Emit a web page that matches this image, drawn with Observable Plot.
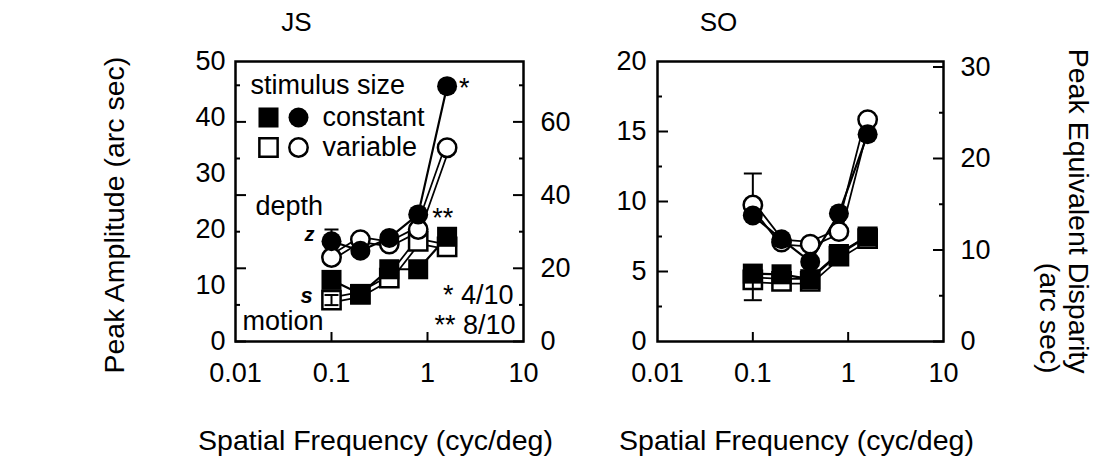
<!DOCTYPE html>
<html>
<head>
<meta charset="utf-8">
<script src="https://cdn.jsdelivr.net/npm/d3@7"></script>
<script src="https://cdn.jsdelivr.net/npm/@observablehq/plot@0.6"></script>
<style>
  html, body { margin: 0; padding: 0; background: #fff; }
  #figure { position: relative; width: 1094px; height: 464px; overflow: hidden; }
  #figure svg { position: absolute; top: 0; }
</style>
</head>
<body>
<div id="figure"></div>
<script>
// Spatial frequencies tested (cyc/deg)
const freq = [0.1, 0.2, 0.4, 0.8, 1.6];

// Observer JS: peak amplitude (arc sec)
const jsDepthConstant  = [17.9, 16.2, 18.5, 22.7, 45.6];
const jsDepthVariable  = [15.0, 18.2, 17.4, 20.0, 34.6];
const jsMotionConstant = [11.0, 8.5, 12.9, 12.9, 18.7];
const jsMotionVariable = [7.4, 8.4, 11.3, 17.9, 16.9];

// Observer SO: peak amplitude (arc sec)
const soDepthConstant  = [9.0, 7.3, 5.7, 9.15, 14.8];
const soDepthVariable  = [9.75, 7.1, 6.95, 7.85, 15.85];
const soMotionConstant = [4.85, 4.8, 4.45, 6.25, 7.5];
const soMotionVariable = [4.4, 4.3, 4.3, 6.1, 7.35];

// Error bars (frequency, lower end, upper end)
const jsErrFreq = [0.1, 0.1];
const jsErrLow  = [17.9, 6.5];
const jsErrHigh = [20.0, 8.3];
const soErrFreq = [0.1, 0.1];
const soErrLow  = [9.75, 2.95];
const soErrHigh = [12.0, 4.4];

// Axis ticks
const xTicks = [0.01, 0.1, 1, 10];
const xInnerTicks = [0.1, 1];
const jsLeftTicks = [0, 10, 20, 30, 40, 50];
const jsRightTicks = [0, 20, 40, 60];
const jsRightMinor = [10, 30, 50, 70];
const soLeftTicks = [0, 5, 10, 15, 20];
const soLeftMinor = [2.5, 7.5, 12.5, 17.5];
const soRightTicks = [0, 10, 20, 30];
const soRightMinor = [5, 15, 25];

// Peak equivalent disparity per unit of peak amplitude
const disparityPerAmplitude = 1.53;

// Texts
const xTitle = "Spatial Frequency (cyc/deg)";
const yTitle = "Peak Amplitude (arc sec)";
const yRightTitle = ["Peak Equivalent Disparity", "(arc sec)"];
const legendTitle = "stimulus size";
const legendLabels = ["constant", "variable"];

const FONT = '"Liberation Sans", Arial, Helvetica, sans-serif';
const FS = 27;      // tick labels, legend, annotations
const TITLE_FS = 28.5; // axis titles

const rows = (values) => freq.map((f, i) => ({f, v: values[i]}));
const toAmp = (list) => list.map((r) => r / disparityPerAmplitude);

// horizontal error-bar cap as a custom symbol (half width = r)
const capSymbol = {
  draw(context, size) {
    const w = Math.sqrt(size / Math.PI);
    context.moveTo(-w, 0);
    context.lineTo(w, 0);
  }
};

// label anchored in the frame, vertically centred on its position
const label = (text, opts) => Plot.text([text], {lineAnchor: "middle", fontSize: FS, ...opts});

function innerTicksY(values, anchor, size) {
  return Plot.axisY(values, {
    anchor, tickSize: size, dx: anchor === "left" ? size : -size,
    tickFormat: () => "", strokeWidth: 2, label: null
  });
}

function panel(cfg) {
  const dc = rows(cfg.depthC), dv = rows(cfg.depthV);
  const mc = rows(cfg.motionC), mv = rows(cfg.motionV);
  const errs = cfg.errF.map((f, i) => ({f, lo: cfg.errLo[i], hi: cfg.errHi[i]}));
  const caps = errs.flatMap((e) => [{f: e.f, v: e.lo}, {f: e.f, v: e.hi}]);

  const doubleLine = (data) => [
    Plot.line(data, {x: "f", y: "v", stroke: "black", strokeWidth: 6.5}),
    Plot.line(data, {x: "f", y: "v", stroke: "white", strokeWidth: 3})
  ];
  const singleLine = (data) => Plot.line(data, {x: "f", y: "v", stroke: "black", strokeWidth: 2.2});

  const marks = [
    Plot.frame({stroke: "black", strokeWidth: 2.5}),
    Plot.axisX(xTicks, {anchor: "bottom", tickSize: 0, tickPadding: 21, tickFormat: (d) => String(d), fontSize: FS, label: null}),
    Plot.axisX(xInnerTicks, {anchor: "bottom", tickSize: 9, dy: -9, tickFormat: () => "", strokeWidth: 2, label: null}),
    Plot.axisY(cfg.leftTicks, {anchor: "left", tickSize: 0, tickPadding: cfg.leftPad, fontSize: FS, label: null}),
    innerTicksY(cfg.leftMajor, "left", 11),
    innerTicksY(cfg.leftMinor, "left", 5),
    Plot.axisY(toAmp(cfg.rightTicks), {
      anchor: "right", tickSize: 0, tickPadding: 17, fontSize: FS, label: null,
      tickFormat: (d) => String(Math.round(d * disparityPerAmplitude))
    }),
    innerTicksY(toAmp(cfg.rightTicks), "right", 11),
    innerTicksY(toAmp(cfg.rightMinor), "right", 5),

    // connecting lines
    ...doubleLine(mv),
    singleLine(mc),
    ...doubleLine(dv),
    singleLine(dc),

    // markers and error bars
    Plot.dot(mv, {x: "f", y: "v", symbol: "square", r: 10.3, fill: "white", stroke: "black", strokeWidth: 2.5}),
    Plot.ruleX(errs, {x: "f", y1: "lo", y2: "hi", stroke: "black", strokeWidth: 2}),
    Plot.dot(caps, {x: "f", y: "v", symbol: capSymbol, r: cfg.capHalf, stroke: "black", strokeWidth: 2}),
    Plot.dot(mc, {x: "f", y: "v", symbol: "square", r: 11.3, fill: "black"}),
    Plot.dot(dv, {x: "f", y: "v", symbol: "circle", r: 9.2, fill: "white", stroke: "black", strokeWidth: 2.5}),
    Plot.dot(dc, {x: "f", y: "v", symbol: "circle", r: 10, fill: "black"}),

    // panel title and axis title
    label(cfg.name, {frameAnchor: "top-left", dx: 61, dy: -39, fontSize: 26, textAnchor: "middle"}),
    label(xTitle, {frameAnchor: "bottom", dx: -4, dy: 99, fontSize: TITLE_FS})
  ];
  if (cfg.extra) marks.push(...cfg.extra(dc));

  return Plot.plot({
    width: cfg.width, height: 464,
    marginLeft: cfg.marginLeft, marginRight: cfg.marginRight, marginTop: 61, marginBottom: 123,
    x: {type: "log", domain: [0.01, 10], label: null},
    y: {domain: [0, cfg.yMax], label: null},
    style: {fontFamily: FONT, fontSize: FS + "px", color: "black", background: "transparent", overflow: "visible"},
    marks
  });
}

const jsExtras = (dc) => [
  label(yTitle, {frameAnchor: "left", dx: -121, dy: 172, rotate: -90, textAnchor: "start", fontSize: TITLE_FS}),
  // legend
  label(legendTitle, {frameAnchor: "top-left", dx: 15, dy: 24, textAnchor: "start"}),
  Plot.dot([0], {frameAnchor: "top-left", dx: 33, dy: 56, symbol: "square", r: 11.3, fill: "black"}),
  Plot.dot([0], {frameAnchor: "top-left", dx: 63, dy: 56, symbol: "circle", r: 10, fill: "black"}),
  label(legendLabels[0], {frameAnchor: "top-left", dx: 87, dy: 56, textAnchor: "start"}),
  Plot.dot([0], {frameAnchor: "top-left", dx: 33, dy: 86, symbol: "square", r: 10.3, fill: "white", stroke: "black", strokeWidth: 2.5}),
  Plot.dot([0], {frameAnchor: "top-left", dx: 63, dy: 86, symbol: "circle", r: 9.2, fill: "white", stroke: "black", strokeWidth: 2.5}),
  label(legendLabels[1], {frameAnchor: "top-left", dx: 87, dy: 86, textAnchor: "start"}),
  // curve names with leader squiggles
  label("depth", {frameAnchor: "top-left", dx: 20, dy: 145, textAnchor: "start"}),
  label("z", {frameAnchor: "top-left", dx: 74, dy: 173, textAnchor: "middle", fontSize: 20, fontStyle: "italic", fontWeight: "bold"}),
  label("motion", {frameAnchor: "top-left", dx: 7, dy: 260, textAnchor: "start"}),
  label("s", {frameAnchor: "top-left", dx: 71, dy: 234, textAnchor: "middle", fontSize: 22, fontStyle: "italic", fontWeight: "bold"}),
  // significance marks
  Plot.text(dc.slice(4), {x: "f", y: "v", text: () => "*", dx: 12, dy: 2, textAnchor: "start", fontSize: FS}),
  Plot.text(dc.slice(3, 4), {x: "f", y: "v", text: () => "**", dx: 14, dy: 4, textAnchor: "start", fontSize: FS}),
  label("* 4/10", {frameAnchor: "top-right", dx: -10, dy: 234, textAnchor: "end"}),
  label("** 8/10", {frameAnchor: "top-right", dx: -8, dy: 264, textAnchor: "end"})
];

const soExtras = () => [
  label(yRightTitle[0], {frameAnchor: "right", dx: 135, dy: 172, rotate: 90, textAnchor: "end", fontSize: TITLE_FS}),
  label(yRightTitle[1], {frameAnchor: "right", dx: 106, dy: 172, rotate: 90, textAnchor: "end", fontSize: TITLE_FS})
];

const js = panel({
  name: "JS", width: 547, marginLeft: 235, marginRight: 24, yMax: 50,
  depthC: jsDepthConstant, depthV: jsDepthVariable, motionC: jsMotionConstant, motionV: jsMotionVariable,
  errF: jsErrFreq, errLo: jsErrLow, errHi: jsErrHigh, capHalf: 7,
  leftTicks: jsLeftTicks, leftPad: 10,
  leftMajor: toAmp(jsRightTicks), leftMinor: toAmp(jsRightMinor),
  rightTicks: jsRightTicks, rightMinor: jsRightMinor,
  extra: jsExtras
});

const so = panel({
  name: "SO", width: 547, marginLeft: 110, marginRight: 151, yMax: 20,
  depthC: soDepthConstant, depthV: soDepthVariable, motionC: soMotionConstant, motionV: soMotionVariable,
  errF: soErrFreq, errLo: soErrLow, errHi: soErrHigh, capHalf: 9,
  leftTicks: soLeftTicks, leftPad: 11,
  leftMajor: soLeftTicks.slice(1, -1), leftMinor: soLeftMinor,
  rightTicks: soRightTicks, rightMinor: soRightMinor,
  extra: soExtras
});

const fig = document.getElementById("figure");
js.style.left = "0px";
so.style.left = "547px";
fig.append(js, so);
</script>
</body>
</html>
